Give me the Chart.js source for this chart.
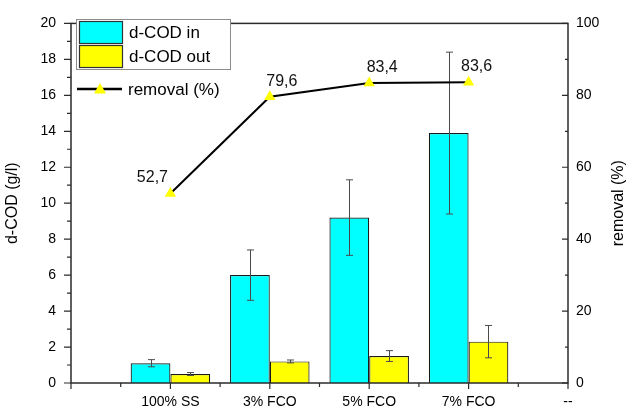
<!DOCTYPE html>
<html>
<head>
<meta charset="utf-8">
<script src="https://cdn.jsdelivr.net/npm/chart.js@4.4.1/dist/chart.umd.min.js"></script>
<style>
  html, body { margin: 0; padding: 0; background: #fff; }
</style>
</head>
<body>
<canvas id="codChart" width="633" height="410"></canvas>
<script>
// --- data ---
const categories = ["100% SS", "3% FCO", "5% FCO", "7% FCO"];
// x axis runs 0..5, category i sits at i+1, the last tick is just "--"
const xTickLabels = ["", "100% SS", "3% FCO", "5% FCO", "7% FCO", "--"];

const codIn = [1.1, 6.0, 9.2, 13.9];
const codInErr = [0.2, 1.4, 2.1, 4.5];
const codOut = [0.5, 1.2, 1.5, 2.3];
const codOutErr = [0.08, 0.08, 0.3, 0.9];
const removal = [52.7, 79.6, 83.4, 83.6];
const removalLabels = ["52,7", "79,6", "83,4", "83,6"];

const FONT = "'Liberation Sans', Arial, sans-serif";
Chart.defaults.font.family = FONT;
Chart.defaults.color = "#000";

function toPoints(values) {
  return values.map((v, i) => ({ x: i + 1, y: v }));
}

// error bars, drawn right after each bar dataset
const errorBars = {
  id: "errorBars",
  afterDatasetDraw(chart, args) {
    const ds = chart.data.datasets[args.index];
    if (!ds.errors) return;
    const yScale = chart.scales[ds.yAxisID];
    const ctx = chart.ctx;
    ctx.save();
    ctx.strokeStyle = "#4a4a4a";
    ctx.lineWidth = 1;
    args.meta.data.forEach((bar, i) => {
      const v = ds.data[i].y, e = ds.errors[i];
      const x = Math.round(bar.x) + 0.5;
      const yTop = yScale.getPixelForValue(v + e);
      const yBot = yScale.getPixelForValue(v - e);
      ctx.beginPath();
      ctx.moveTo(x, yTop); ctx.lineTo(x, yBot);
      ctx.moveTo(x - 3.5, yTop); ctx.lineTo(x + 3.5, yTop);
      ctx.moveTo(x - 3.5, yBot); ctx.lineTo(x + 3.5, yBot);
      ctx.stroke();
    });
    ctx.restore();
  }
};

// value labels above the removal points
const pointLabels = {
  id: "pointLabels",
  afterDatasetsDraw(chart) {
    const meta = chart.getDatasetMeta(0);
    const dx = [-18, 12, 13, 8];
    const ctx = chart.ctx;
    ctx.save();
    ctx.font = "16px " + FONT;
    ctx.fillStyle = "#111";
    ctx.textAlign = "center";
    ctx.textBaseline = "alphabetic";
    meta.data.forEach((pt, i) => {
      ctx.fillText(removalLabels[i], pt.x + dx[i], pt.y - 11);
    });
    ctx.restore();
  }
};

// Origin style frame with outward/inward ticks, titles and legend
const frame = {
  id: "frame",
  afterDraw(chart) {
    const { ctx, chartArea: a, scales } = chart;
    ctx.save();
    ctx.strokeStyle = "#2b2b2b";
    ctx.lineWidth = 1.5;
    ctx.strokeRect(a.left, a.top, a.right - a.left, a.bottom - a.top);

    ctx.lineWidth = 1.2;
    ctx.beginPath();
    for (let v = 0; v <= 20; v++) {
      const y = scales.y.getPixelForValue(v);
      ctx.moveTo(a.left, y); ctx.lineTo(a.left - (v % 2 === 0 ? 7 : 4), y);
    }
    for (let v = 0; v <= 100; v += 10) {
      const y = scales.y1.getPixelForValue(v);
      ctx.moveTo(a.right, y); ctx.lineTo(a.right - (v % 20 === 0 ? 6 : 3), y);
    }
    for (let v = 0; v <= 5; v += 0.5) {
      const x = scales.x.getPixelForValue(v);
      ctx.moveTo(x, a.bottom); ctx.lineTo(x, a.bottom + (v % 1 === 0 ? 6 : 4));
    }
    ctx.stroke();

    // axis titles, both read bottom to top
    ctx.fillStyle = "#000";
    ctx.font = "16px " + FONT;
    ctx.textAlign = "center";
    ctx.textBaseline = "alphabetic";
    const midY = (a.top + a.bottom) / 2;
    ctx.save();
    ctx.translate(17, midY);
    ctx.rotate(-Math.PI / 2);
    ctx.fillText("d-COD (g/l)", 0, 0);
    ctx.restore();
    ctx.save();
    ctx.translate(623, midY);
    ctx.rotate(-Math.PI / 2);
    ctx.fillText("removal (%)", 0, 0);
    ctx.restore();

    // legend: boxed bar entries, line entry below
    const ds = chart.data.datasets;
    ctx.fillStyle = "#fff";
    ctx.strokeStyle = "#8c8c8c";
    ctx.lineWidth = 1;
    ctx.fillRect(76.5, 19.5, 154, 50);
    ctx.strokeRect(76.5, 19.5, 154, 50);
    ctx.font = "17px " + FONT;
    ctx.textAlign = "left";
    ctx.textBaseline = "middle";
    [ds[1], ds[2]].forEach((d, i) => {
      const y = 21.5 + i * 24;
      ctx.fillStyle = d.backgroundColor;
      ctx.fillRect(79.5, y, 43, 22);
      ctx.strokeStyle = "#333";
      ctx.lineWidth = 1.2;
      ctx.strokeRect(79.5, y, 43, 22);
      ctx.fillStyle = "#000";
      ctx.fillText(d.label, 129, y + 12);
    });
    const ly = 89;
    ctx.strokeStyle = "#000";
    ctx.lineWidth = 2.5;
    ctx.beginPath();
    ctx.moveTo(77, ly); ctx.lineTo(122, ly);
    ctx.stroke();
    ctx.fillStyle = ds[0].pointBackgroundColor;
    ctx.beginPath();
    ctx.moveTo(100, ly - 6); ctx.lineTo(106, ly + 4.5); ctx.lineTo(94, ly + 4.5);
    ctx.closePath();
    ctx.fill();
    ctx.fillStyle = "#000";
    ctx.fillText(ds[0].label, 128, ly + 1);
    ctx.restore();
  }
};

new Chart(document.getElementById("codChart"), {
  type: "bar",
  data: {
    datasets: [
      {
        type: "line",
        label: "removal (%)",
        data: toPoints(removal),
        yAxisID: "y1",
        borderColor: "#000",
        borderWidth: 2,
        tension: 0,
        pointStyle: "triangle",
        pointRadius: 6.5,
        pointBackgroundColor: "#ffff00",
        pointBorderColor: "#ffff00",
        pointBorderWidth: 0,
        order: 0
      },
      {
        label: "d-COD in",
        data: toPoints(codIn),
        errors: codInErr,
        yAxisID: "y",
        backgroundColor: "#00ffff",
        borderColor: "#1a1a1a",
        borderWidth: 1.2,
        categoryPercentage: 0.8,
        barPercentage: 1.0,
        order: 1
      },
      {
        label: "d-COD out",
        data: toPoints(codOut),
        errors: codOutErr,
        yAxisID: "y",
        backgroundColor: "#ffff00",
        borderColor: "#1a1a1a",
        borderWidth: 1.2,
        categoryPercentage: 0.8,
        barPercentage: 1.0,
        order: 1
      }
    ]
  },
  options: {
    responsive: false,
    animation: false,
    layout: { padding: { top: 16, left: 0, right: 0, bottom: 0 } },
    plugins: {
      legend: { display: false },
      tooltip: { enabled: false }
    },
    scales: {
      x: {
        type: "linear",
        min: 0,
        max: 5,
        offset: false,
        grid: { display: false, drawTicks: false, offset: false },
        border: { display: false },
        ticks: {
          stepSize: 1,
          autoSkip: false,
          maxRotation: 0,
          padding: 11,
          font: { size: 14 },
          callback: (v) => xTickLabels[v] ?? ""
        },
        afterFit: (s) => { s.height = 27; }
      },
      y: {
        position: "left",
        min: 0,
        max: 20,
        grid: { display: false, drawTicks: false },
        border: { display: false },
        ticks: { stepSize: 2, padding: 15, font: { size: 14 } },
        afterFit: (s) => { s.width = 71; }
      },
      y1: {
        position: "right",
        min: 0,
        max: 100,
        grid: { display: false, drawTicks: false },
        border: { display: false },
        ticks: { stepSize: 20, padding: 8, font: { size: 14 } },
        afterFit: (s) => { s.width = 65; }
      }
    }
  },
  plugins: [errorBars, pointLabels, frame]
});
</script>
</body>
</html>
